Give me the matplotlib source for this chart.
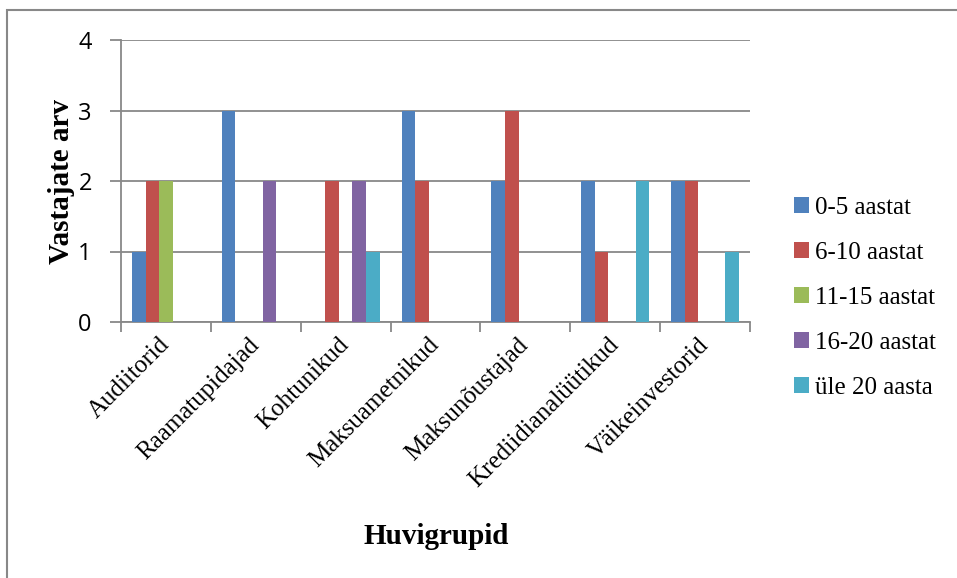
import numpy as np
import matplotlib.pyplot as plt
import matplotlib.transforms as mtransforms
from matplotlib.patches import Rectangle

groups = ["Audiitorid", "Raamatupidajad", "Kohtunikud", "Maksuametnikud",
          "Maksunõustajad", "Krediidianalüütikud", "Väikeinvestorid"]
series = ["0-5 aastat", "6-10 aastat", "11-15 aastat", "16-20 aastat", "üle 20 aasta"]
s_0_5 = [1, 3, 0, 3, 2, 2, 2]
s_6_10 = [2, 0, 2, 2, 3, 1, 2]
s_11_15 = [2, 0, 0, 0, 0, 0, 0]
s_16_20 = [0, 2, 2, 0, 0, 0, 0]
s_20 = [0, 0, 1, 0, 0, 2, 1]
colors = ["#4F81BD", "#C0504D", "#9BBB59", "#8064A2", "#4BACC6"]

grey = "#888888"
serif = ["Liberation Serif", "DejaVu Serif"]

fig = plt.figure(figsize=(9.57, 5.78), dpi=100)
ax = fig.add_axes([121 / 957, 1 - 322 / 578, 629 / 957, 282 / 578])

# chart frame
fig.patches.append(Rectangle((7 / 957, -0.1), 1.2, 1 - 10 / 578 + 0.1,
                             transform=fig.transFigure, fill=False,
                             edgecolor=grey, linewidth=1.5))

x = np.arange(len(groups))
w = 0.151
for i, (vals, lab) in enumerate(zip([s_0_5, s_6_10, s_11_15, s_16_20, s_20], series)):
    ax.bar(x + (i - 2) * w, vals, w, color=colors[i], label=lab, zorder=3)

ax.set_xlim(-0.5, len(groups) - 0.5)
ax.set_ylim(0, 4)
ax.set_yticks([0, 1, 2, 3, 4])
ax.yaxis.grid(True, color=grey, linewidth=1.3, zorder=0)
ax.set_axisbelow(True)

ax.set_xticks(np.arange(len(groups) + 1) - 0.5)
ax.set_xticklabels([])
ax.set_xticks(x, minor=True)
ax.set_xticklabels(groups, minor=True, rotation=45, ha="right", va="center",
                   rotation_mode="anchor", family=serif, fontsize=18)
shift = mtransforms.ScaledTranslation(8 / 100, 0, fig.dpi_scale_trans)
for t in ax.get_xticklabels(minor=True):
    t.set_transform(t.get_transform() + shift)
ax.tick_params(axis="x", which="minor", length=0, pad=14)
ax.tick_params(axis="x", which="major", length=7, width=1.3, color=grey, direction="out")
ax.tick_params(axis="y", length=8, width=1.3, color=grey, pad=13, labelsize=17)
for t in ax.get_yticklabels():
    t.set_family(["Open Sans", "DejaVu Sans"])

for s in ["top", "right"]:
    ax.spines[s].set_visible(False)
for s in ["left", "bottom"]:
    ax.spines[s].set_color(grey)
    ax.spines[s].set_linewidth(1.3)

ax.set_ylabel("Vastajate arv", family=serif, fontweight="bold", fontsize=21, labelpad=2)
fig.text(436 / 957, 1 - 537 / 578, "Huvigrupid", family=serif, fontweight="bold",
         fontsize=21, ha="center", va="center")

leg = ax.legend(loc="center left", bbox_to_anchor=(784 / 957, 1 - 298 / 578),
                bbox_transform=fig.transFigure, frameon=False, fontsize=18,
                handlelength=0.58, handleheight=0.58, handletextpad=0.25,
                labelspacing=0.92, borderaxespad=0)
for t in leg.get_texts():
    t.set_family(serif)

fig.savefig("out.png", dpi=100)
